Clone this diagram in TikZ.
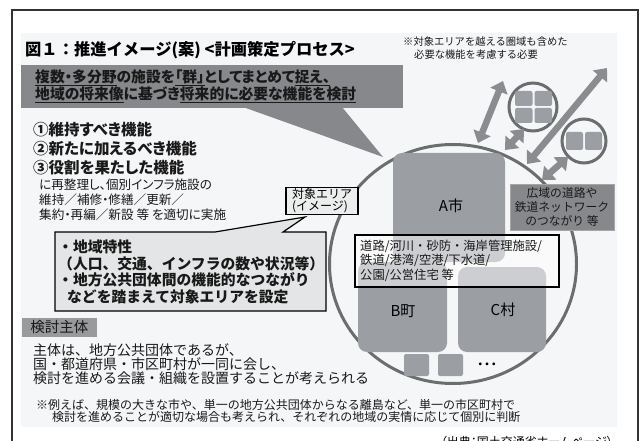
\documentclass[tikz,border=0pt]{standalone}
\usepackage{fontspec}
\setmainfont{Noto Sans CJK JP}[RawFeature=+palt]
\newfontfamily\jpmono{Noto Sans CJK JP}
\usetikzlibrary{arrows.meta}

\definecolor{panelgray}{RGB}{245,246,247}
\definecolor{bannergray}{RGB}{134,136,139}
\definecolor{blockgray}{RGB}{155,158,163}
\definecolor{ringgray}{RGB}{108,109,111}
\definecolor{arrowgray}{RGB}{138,140,144}
\definecolor{calloutgray}{RGB}{228,229,230}
\definecolor{inkgray}{RGB}{25,25,25}

\newcommand{\fsz}[2]{\fontsize{#1}{#2}\selectfont}

\tikzset{
  txt/.style={inner sep=0pt, anchor=west, align=left, text=inkgray},
  block/.style={fill=blockgray, rounded corners=9pt},
  minisq/.style={fill=blockgray, rounded corners=2pt},
  ring/.style={draw=ringgray, line width=3pt},
  twoway/.style={draw=arrowgray, line width=6.5pt,
    {Triangle[length=11pt,width=18pt]}-{Triangle[length=11pt,width=18pt]}},
}

\begin{document}
\begin{tikzpicture}[x=1pt,y=-1pt]
  \useasboundingbox (0,0) rectangle (643,441);
  % frame and panel
  \draw[black!80,line width=1.5pt] (12,10) rectangle (638,480);
  \fill[panelgray] (21,33) rectangle (617,427);

  % title and banner
  \node[txt,font=\jpmono\fsz{16.3}{18}\bfseries,text=black] (title) at (25,50)
    {図１：推進イメージ(案) <計画策定プロセス>};
  \fill[bannergray] (21,65) rectangle (403,108);
  \fill[bannergray] (243,107) -- (342,107) -- (383,157) -- cycle;
  \node[txt,font=\fsz{14.8}{17}\bfseries] (banner) at (35,86.5)
    {\underline{複数・多分野}の施設を\underline{「群」}としてまとめて\underline{捉え、}\\
     \underline{地域の将来像}に基づき\underline{将来的に必要な機能を検討}};
  \node[txt,font=\jpmono\fsz{10.3}{12}] (note1) at (403,42) {※対象エリアを越える圏域も含めた};
  \node[txt,font=\jpmono\fsz{10.3}{12}] (note2) at (414,55) {必要な機能を考慮する必要};

  % function list
  \node[txt,font=\fsz{15.5}{19}\bfseries] (funcs) at (33,149)
    {①維持すべき機能\\②新たに加えるべき機能\\③役割を果たした機能};
  \node[txt,font=\fsz{12.6}{15}] (actions) at (39,200)
    {に再整理し、個別インフラ施設の\\維持／補修・修繕／更新／\\集約・再編／新設 等 を適切に実施};

  % target area
  \draw[ring] (453,264) ellipse [x radius=123.5, y radius=119.5];
  \fill[block] (393,153) rectangle (505,262);
  \fill[block] (358,262) rectangle (447,352);
  \fill[block] (458,267) rectangle (546,352);
  \foreach \x in {404,438}
    \fill[minisq] (\x,354) rectangle +(25,22);
  \node[font=\fsz{15}{17}] (cityA) at (451,206) {A市};
  \node[font=\fsz{15}{17}] (townB) at (403,311) {B町};
  \node[font=\fsz{15}{17}] (villageC) at (503,310) {C村};
  \node[font=\fsz{13.5}{15}] (others) at (487,366) {・・・};
  \draw[black,line width=1.3pt,fill=white,fill opacity=0.5] (355,235) rectangle (559,287);
  \node[txt,font=\jpmono\fsz{12.3}{14.5}] (facilities) at (360,260.5)
    {道路/河川・砂防・海岸管理施設/\\鉄道/港湾/空港/下水道/\\公園/公営住宅 等};
  \node[draw=black,line width=1.2pt,fill=calloutgray!70,inner sep=1pt,align=left,
        font=\jpmono\fsz{12}{12},minimum width=72pt,minimum height=24pt] (areaTag) at (322,201)
    {対象エリア\\(イメージ)};

  % callout for the area
  \draw[fill=calloutgray,line width=1.2pt] (55,232) -- (215,232) -- (305,217) -- (283,232)
    -- (326,232) -- (326,311) -- (55,311) -- cycle;
  \node[txt,font=\jpmono\fsz{14.8}{16.7}\bfseries] (region) at (58,272)
    {・地域特性\\（人口、交通、インフラの数や状況等）\\・地方公共団体間の機能的なつながり\\
     \hspace*{9pt}などを踏まえて対象エリアを設定};

  % wider area
  \draw[ring,fill=panelgray] (533,107) circle [radius=24];
  \foreach \x in {515,534.5}
    \foreach \y in {91,108}
      \fill[minisq] (\x,\y) rectangle +(17.5,15);
  \draw[ring,fill=panelgray] (584,141) circle [radius=22];
  \foreach \x in {566,585}
    \fill[minisq] (\x,132) rectangle +(17,18);
  \foreach \n/\xa/\ya/\xb/\yb in {1/478/143/503/81, 2/505/150/524/129,
                                  3/527/164/607/68, 4/542/180/568/157}{
    \coordinate (tip\n a) at (\xa,\ya);
    \coordinate (tip\n b) at (\xb,\yb);
    \draw[twoway] (tip\n a) -- (tip\n b);
  }
  \node[fill=bannergray,draw=black!35,line width=1pt,minimum width=104pt,minimum height=45pt,
        align=center,inner sep=0pt,text=inkgray,font=\jpmono\fsz{11.8}{14}] (network) at (562,207.5)
    {広域の道路や\\鉄道ネットワーク\\のつながり 等};

  % who plans
  \node[fill=bannergray!85,minimum width=75pt,minimum height=19pt,inner sep=0pt,
        text=inkgray,font=\fsz{14.5}{16}] (bodyTag) at (59.5,327.5) {検討主体};
  \node[txt,font=\jpmono\fsz{14}{14}] (body) at (33,364)
    {主体は、地方公共団体であるが、\\国・都道府県・市区町村が一同に会し、\\
     検討を進める会議・組織を設置することが考えられる};
  \node[txt,font=\jpmono\fsz{12}{12}] (foot1) at (36,405)
    {※例えば、規模の大きな市や、単一の地方公共団体からなる離島など、単一の市区町村で};
  \node[txt,font=\jpmono\fsz{12}{12}] (foot2) at (52,416.5)
    {検討を進めることが適切な場合も考えられ、それぞれの地域の実情に応じて個別に判断};
  \node[inner sep=0pt,anchor=east,font=\fsz{12}{12}] (source) at (613,442)
    {（出典：国土交通省ホームページ）};
\end{tikzpicture}
\end{document}
